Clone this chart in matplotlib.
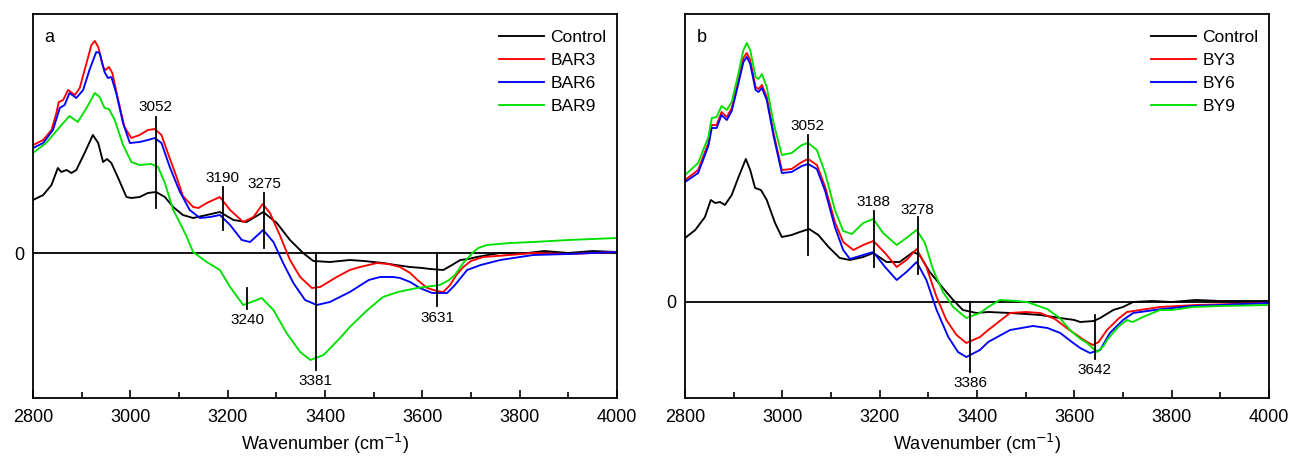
import matplotlib
matplotlib.use("Agg")
import matplotlib.pyplot as plt
from matplotlib.ticker import MultipleLocator

plt.rcParams['font.family'] = ['Liberation Sans', 'DejaVu Sans']

# ---------------- Panel a data (wavenumber, relative absorbance, arbitrary units) -------------
a_ctrl_x = [2800, 2821, 2838, 2851, 2858, 2869, 2879, 2889, 2906, 2923, 2934, 2944, 2952, 2961,
            2975, 2992, 3002, 3019, 3036, 3053, 3071, 3088, 3108, 3129, 3157, 3184, 3212, 3239,
            3273, 3301, 3328, 3355, 3376, 3410, 3451, 3480, 3519, 3545, 3575, 3600, 3616, 3643,
            3661, 3678, 3695, 3712, 3735, 3760, 3800, 3850, 3900, 3950, 4000]
a_ctrl_y = [53, 58, 68, 85, 81, 83, 80, 83, 100, 118, 110, 91, 94, 90,
            75, 56, 55, 56, 60, 61, 56, 46, 38, 35, 38, 41, 33, 31,
            41, 30, 13, 0, -8, -9, -7, -8, -10, -12, -14, -15, -16, -17,
            -12, -7, -6, -4, -2, 0, -1, 2, 0, 2, 1]

a_bar3_x = [2800, 2821, 2838, 2848, 2853, 2862, 2872, 2886, 2896, 2910, 2920, 2927, 2934, 2944,
            2949, 2956, 2963, 2975, 2988, 3002, 3019, 3036, 3050, 3064, 3077, 3095, 3108, 3129,
            3140, 3157, 3184, 3205, 3232, 3253, 3272, 3287, 3307, 3328, 3349, 3373, 3390, 3424,
            3451, 3472, 3507, 3530, 3554, 3575, 3590, 3610, 3630, 3643, 3657, 3670, 3684, 3700,
            3725, 3780, 3828, 3900, 4000]
a_bar3_y = [108, 113, 123, 140, 151, 153, 163, 158, 165, 190, 208, 212, 206, 186,
            183, 186, 180, 153, 126, 115, 118, 123, 124, 118, 100, 76, 57, 46,
            45, 50, 56, 43, 31, 36, 49, 40, 18, -7, -24, -35, -34, -24,
            -17, -14, -10, -11, -14, -20, -27, -35, -38, -39, -32, -22, -14, -8,
            -4, -2, 0, -1, 1]

a_bar6_x = [2800, 2821, 2841, 2855, 2865, 2875, 2889, 2903, 2916, 2930, 2937, 2947, 2954, 2961,
            2971, 2985, 2999, 3019, 3036, 3050, 3064, 3081, 3101, 3122, 3143, 3164, 3184, 3205,
            3229, 3246, 3273, 3294, 3314, 3335, 3359, 3383, 3410, 3451, 3490, 3513, 3540, 3554,
            3575, 3595, 3620, 3651, 3667, 3692, 3720, 3760, 3828, 3900, 4000]
a_bar6_y = [105, 110, 123, 145, 148, 160, 155, 163, 183, 201, 200, 181, 175, 176,
            160, 130, 110, 111, 113, 115, 110, 86, 62, 43, 35, 36, 38, 28,
            13, 11, 23, 11, -10, -30, -47, -52, -49, -39, -27, -24, -24, -25,
            -29, -35, -40, -40, -32, -17, -12, -7, -2, -1, 1]

a_bar9_x = [2800, 2827, 2855, 2875, 2892, 2910, 2927, 2937, 2947, 2956, 2968, 2985, 3002, 3019,
            3043, 3057, 3071, 3088, 3102, 3116, 3129, 3157, 3184, 3205, 3232, 3249, 3270, 3294,
            3321, 3349, 3370, 3397, 3431, 3451, 3485, 3519, 3550, 3589, 3636, 3655, 3667, 3684,
            3705, 3715, 3733, 3780, 3828, 3900, 4000]
a_bar9_y = [100, 110, 126, 137, 131, 145, 160, 156, 145, 144, 133, 108, 91, 88,
            89, 86, 70, 43, 30, 16, 1, -9, -17, -34, -52, -49, -45, -57,
            -80, -99, -107, -102, -85, -74, -58, -44, -39, -35, -32, -27, -22, -10,
            1, 5, 8, 10, 11, 13, 15]

# ---------------- Panel b data -------------
b_ctrl_x = [2800, 2821, 2841, 2853, 2862, 2872, 2882, 2896, 2910, 2925, 2934, 2944, 2956, 2968,
            2985, 2999, 3019, 3036, 3055, 3074, 3095, 3118, 3139, 3166, 3187, 3214, 3241, 3269,
            3282, 3303, 3330, 3351, 3371, 3399, 3423, 3468, 3500, 3530, 3571, 3600, 3612, 3640,
            3653, 3680, 3700, 3721, 3760, 3800, 3850, 3900, 4000]
b_ctrl_y = [64, 72, 85, 102, 99, 100, 97, 107, 125, 143, 132, 114, 112, 102,
            79, 65, 67, 70, 73, 67, 55, 44, 42, 45, 49, 40, 40, 50,
            47, 30, 14, 2, -8, -11, -10, -11, -12, -13, -16, -18, -20, -19,
            -16, -8, -5, 0, 1, 0, 2, 1, 1]

b_by3_x = [2800, 2827, 2848, 2855, 2865, 2875, 2886, 2896, 2910, 2920, 2927, 2934, 2945, 2951,
           2958, 2968, 2982, 2999, 3019, 3040, 3053, 3071, 3088, 3108, 3125, 3146, 3166, 3187,
           3211, 3235, 3255, 3276, 3296, 3317, 3337, 3358, 3378, 3406, 3423, 3468, 3500, 3530,
           3560, 3590, 3626, 3638, 3650, 3667, 3690, 3708, 3776, 3850, 4000]
b_by3_y = [122, 132, 159, 177, 177, 190, 185, 194, 222, 244, 249, 242, 215, 213,
           217, 205, 169, 132, 133, 140, 143, 137, 115, 80, 60, 52, 57, 61,
           49, 35, 42, 53, 35, 5, -18, -33, -41, -35, -28, -11, -10, -11,
           -17, -28, -40, -43, -40, -28, -17, -10, -5, -3, -1]

b_by6_x = [2800, 2827, 2848, 2855, 2865, 2875, 2886, 2896, 2910, 2920, 2927, 2934, 2945, 2951,
           2958, 2968, 2982, 2999, 3019, 3040, 3053, 3071, 3088, 3108, 3125, 3139, 3166, 3187,
           3211, 3235, 3255, 3276, 3296, 3317, 3341, 3361, 3378, 3406, 3423, 3468, 3515, 3545,
           3571, 3595, 3612, 3632, 3653, 3673, 3700, 3721, 3780, 3844, 4000]
b_by6_y = [120, 129, 156, 174, 174, 187, 182, 191, 219, 240, 245, 238, 212, 210,
           214, 202, 166, 129, 130, 136, 138, 133, 111, 75, 52, 43, 47, 50,
           35, 22, 30, 40, 22, -8, -35, -50, -55, -48, -40, -28, -24, -26,
           -31, -40, -46, -51, -48, -31, -18, -11, -7, -4, -1]

b_by9_x = [2800, 2827, 2848, 2855, 2865, 2875, 2886, 2896, 2910, 2920, 2927, 2934, 2945, 2951,
           2958, 2968, 2982, 2999, 3019, 3040, 3053, 3071, 3088, 3108, 3125, 3143, 3166, 3187,
           3207, 3235, 3255, 3276, 3293, 3310, 3330, 3351, 3378, 3406, 3423, 3447, 3480, 3503,
           3544, 3570, 3591, 3610, 3626, 3647, 3660, 3667, 3690, 3708, 3720, 3741, 3776, 3800,
           3844, 3900, 4000]
b_by9_y = [127, 139, 165, 184, 185, 196, 192, 200, 229, 252, 259, 252, 225, 223,
           228, 215, 179, 147, 149, 157, 159, 152, 129, 92, 71, 68, 79, 83,
           69, 57, 64, 72, 59, 32, 10, -5, -16, -11, -5, 2, 1, 0,
           -7, -16, -28, -36, -41, -50, -44, -38, -25, -18, -20, -15, -8, -8,
           -5, -4, -3]

labels_a = ["Control", "BAR3", "BAR6", "BAR9"]
labels_b = ["Control", "BY3", "BY6", "BY9"]
colors = ["#000000", "#ff0000", "#0000ff", "#00e000"]

# annotations: (wavenumber, line y0, line y1, label y, va)
ann_a = [(3052, 136, 45, 139, 'bottom'), (3190, 66, 23, 68, 'bottom'), (3275, 60, 5, 62, 'bottom'),
         (3240, -35, -56, -60, 'top'), (3381, 0, -117, -121, 'top'), (3631, 0, -53, -58, 'top')]
ann_b = [(3052, 167, 47, 169, 'bottom'), (3188, 91, 35, 93, 'bottom'), (3278, 85, 28, 85, 'bottom'),
         (3386, 0, -70, -74, 'top'), (3642, -13, -57, -61, 'top')]

fig = plt.figure(figsize=(12.92, 4.58), dpi=100)
ax1 = fig.add_axes([33/1292, 1-398/458, 584/1292, 384/458])
ax2 = fig.add_axes([685/1292, 1-398/458, 584/1292, 384/458])

panels = [
    (ax1, [(a_ctrl_x, a_ctrl_y), (a_bar3_x, a_bar3_y), (a_bar6_x, a_bar6_y), (a_bar9_x, a_bar9_y)],
     labels_a, ann_a, (-145, 239), 'a'),
    (ax2, [(b_ctrl_x, b_ctrl_y), (b_by3_x, b_by3_y), (b_by6_x, b_by6_y), (b_by9_x, b_by9_y)],
     labels_b, ann_b, (-96, 288), 'b'),
]

for ax, series, labels, anns, ylim, letter in panels:
    for (x, y), lab, c in zip(series, labels, colors):
        ax.plot(x, y, color=c, lw=1.35, label=lab, solid_joinstyle='round')
    ax.axhline(0, color='black', lw=1.3, zorder=1)
    for wn, y0, y1, ly, va in anns:
        ax.plot([wn, wn], [y0, y1], color='black', lw=1.3)
        ax.text(wn, ly, str(wn), ha='center', va=va, fontsize=11)
    ax.set_xlim(2800, 4000)
    ax.set_ylim(*ylim)
    ax.xaxis.set_major_locator(MultipleLocator(200))
    ax.xaxis.set_minor_locator(MultipleLocator(100))
    ax.tick_params(axis='x', which='major', direction='in', length=6, width=1.2,
                   labelsize=13, pad=8, top=False)
    ax.tick_params(axis='x', which='minor', direction='in', length=4, width=1.2, top=False)
    ax.set_yticks([0])
    ax.set_yticklabels(['0'])
    ax.tick_params(axis='y', length=0, labelsize=13, pad=6)
    for s in ax.spines.values():
        s.set_linewidth(1.3)
    ax.set_xlabel('Wavenumber (cm$^{-1}$)', fontsize=13, labelpad=4)
    ax.text(0.02, 0.96, letter, transform=ax.transAxes, fontsize=13, ha='left', va='top')
    ax.legend(loc='upper right', bbox_to_anchor=(1.0, 0.985), frameon=False, fontsize=12.5,
              handlelength=2.6, handletextpad=0.35, labelspacing=0.45, borderaxespad=0.5,
              borderpad=0.1)

fig.savefig('out.png', dpi=100)
